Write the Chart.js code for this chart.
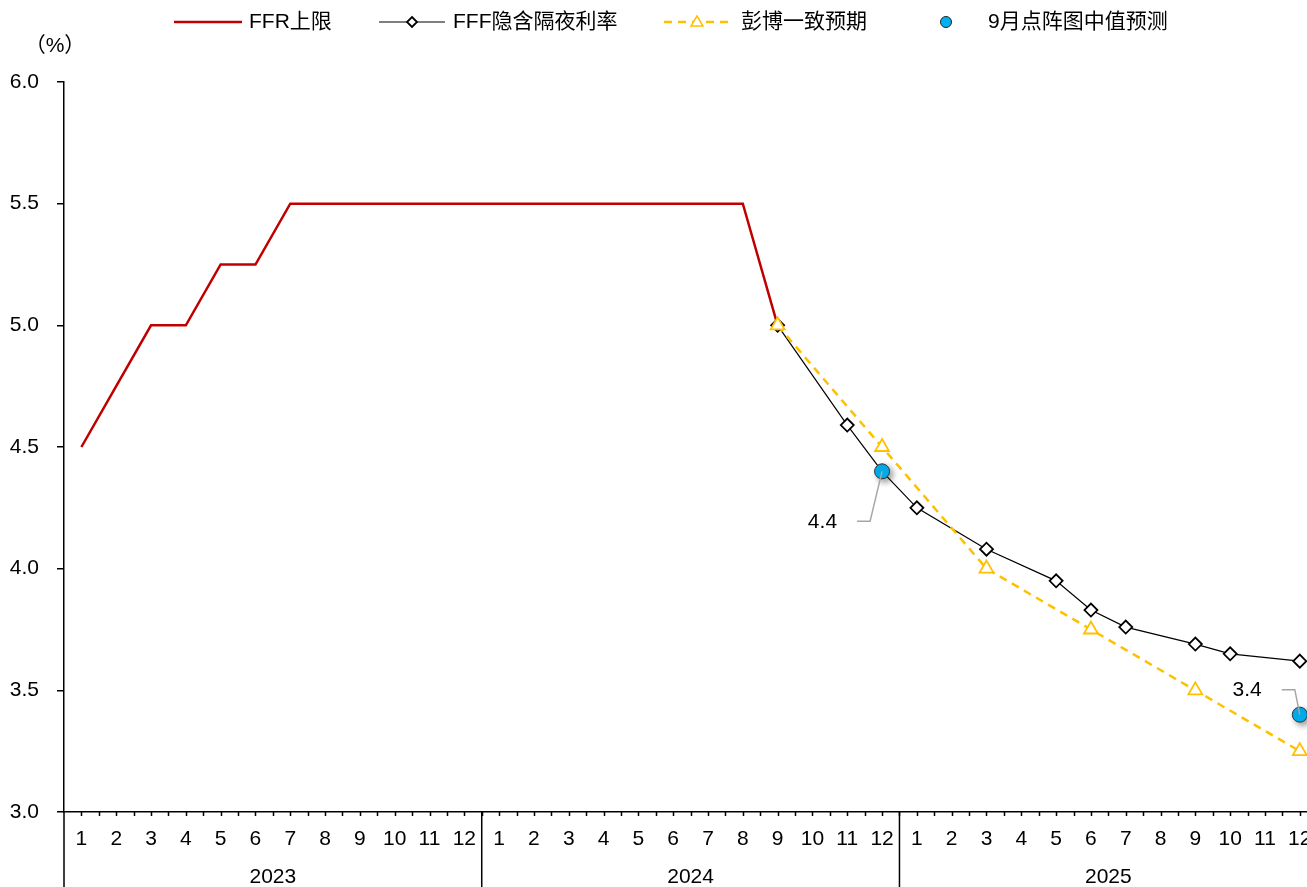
<!DOCTYPE html>
<html>
<head>
<meta charset="utf-8">
<script src="https://cdn.jsdelivr.net/npm/chart.js@4.4.1/dist/chart.umd.min.js"></script>
<style>
  html, body { margin: 0; padding: 0; background: #fff; overflow: hidden; }
  #wrap { width: 1327px; height: 887px; }
</style>
</head>
<body>
<div id="wrap"><canvas id="rateChart" width="1327" height="887"></canvas></div>
<script>
// months 2023-01 .. 2025-12
const years = ['2023', '2024', '2025'];
const months = [];
years.forEach(() => { for (let m = 1; m <= 12; m++) months.push(String(m)); });

// FFR upper bound
const ffrUpper = [4.5, 4.75, 5.0, 5.0, 5.25, 5.25, 5.5, 5.5, 5.5, 5.5, 5.5, 5.5,
  5.5, 5.5, 5.5, 5.5, 5.5, 5.5, 5.5, 5.5, 5.0, null, null, null,
  null, null, null, null, null, null, null, null, null, null, null, null];
// FFF implied overnight rate
const fffImplied = [null, null, null, null, null, null, null, null, null, null, null, null,
  null, null, null, null, null, null, null, null, 5.0, null, 4.59, 4.40,
  4.25, null, 4.08, null, 3.95, 3.83, 3.76, null, 3.69, 3.65, null, 3.62];
// Bloomberg consensus
const bbgConsensus = [null, null, null, null, null, null, null, null, null, null, null, null,
  null, null, null, null, null, null, null, null, 5.0, null, null, 4.5,
  null, null, 4.0, null, null, 3.75, null, null, 3.5, null, null, 3.25];
// September dot plot median
const dotMedian = [null, null, null, null, null, null, null, null, null, null, null, null,
  null, null, null, null, null, null, null, null, null, null, null, 4.4,
  null, null, null, null, null, null, null, null, null, null, null, 3.4];

const FONT = '"Liberation Sans", Arial, "Noto Sans CJK SC", sans-serif';
const FS = 21;
const RED = '#C00000', YEL = '#FFC000', BLUE = '#00B0F0';

const decorPlugin = {
  id: 'decor',
  beforeDatasetDraw(chart, args) {
    if (args.index === 3) {
      const ctx = chart.ctx;
      ctx.save();
      ctx.shadowColor = 'rgba(0,0,0,0.4)';
      ctx.shadowBlur = 6;
      ctx.shadowOffsetX = 3;
      ctx.shadowOffsetY = 3;
    }
  },
  afterDatasetDraw(chart, args) {
    if (args.index === 3) chart.ctx.restore();
  },
  afterDraw(chart) {
    const ctx = chart.ctx;
    const x = chart.scales.x, y = chart.scales.y;
    const area = chart.chartArea;
    const H = chart.height;
    ctx.save();
    ctx.strokeStyle = '#000';
    ctx.lineWidth = 1.5;

    // half-category tick marks below the axis
    const step = (area.right - area.left) / (months.length * 2);
    ctx.beginPath();
    for (let k = 1; k <= months.length * 2; k++) {
      const px = Math.round(area.left + k * step) + 0.5;
      ctx.moveTo(px, area.bottom);
      ctx.lineTo(px, area.bottom + 4);
    }
    ctx.stroke();

    // y axis continues down, year dividers
    ctx.beginPath();
    ctx.moveTo(area.left, area.bottom);
    ctx.lineTo(area.left, H);
    for (let yi = 1; yi < years.length; yi++) {
      const bx = (x.getPixelForValue(yi * 12 - 1) + x.getPixelForValue(yi * 12)) / 2;
      ctx.moveTo(bx, area.bottom);
      ctx.lineTo(bx, H);
    }
    ctx.stroke();

    // year labels
    ctx.fillStyle = '#000';
    ctx.font = FS + 'px ' + FONT;
    ctx.textAlign = 'center';
    ctx.textBaseline = 'middle';
    years.forEach((yr, yi) => {
      const cx = (x.getPixelForValue(yi * 12) + x.getPixelForValue(yi * 12 + 11)) / 2;
      ctx.fillText(yr, cx, 877);
    });

    // unit
    ctx.fillText('（%）', 55, 46);

    // dot-plot callouts
    const callouts = [
      { idx: 23, tx: -45, ty: 50 },
      { idx: 35, tx: -38, ty: -25 }
    ];
    callouts.forEach(c => {
      const px = x.getPixelForValue(c.idx), py = y.getPixelForValue(dotMedian[c.idx]);
      ctx.strokeStyle = '#A6A6A6';
      ctx.lineWidth = 1.5;
      ctx.beginPath();
      ctx.moveTo(px + c.tx + 20, py + c.ty);
      ctx.lineTo(px + c.tx + 33, py + c.ty);
      ctx.lineTo(px, py);
      ctx.stroke();
      ctx.fillStyle = '#000';
      ctx.textAlign = 'right';
      ctx.fillText(dotMedian[c.idx].toFixed(1), px + c.tx, py + c.ty + 1);
    });

    // legend
    const ly = 22;
    ctx.textAlign = 'left';
    ctx.fillStyle = '#000';
    // FFR
    ctx.strokeStyle = RED; ctx.lineWidth = 2.5; ctx.setLineDash([]);
    ctx.beginPath(); ctx.moveTo(174, ly); ctx.lineTo(242, ly); ctx.stroke();
    ctx.fillText('FFR上限', 249, ly);
    // FFF
    ctx.strokeStyle = '#000'; ctx.lineWidth = 1.2;
    ctx.beginPath(); ctx.moveTo(379, ly); ctx.lineTo(445, ly); ctx.stroke();
    ctx.lineWidth = 1.8; ctx.fillStyle = '#fff';
    ctx.beginPath(); ctx.moveTo(412, ly - 5); ctx.lineTo(417, ly); ctx.lineTo(412, ly + 5); ctx.lineTo(407, ly); ctx.closePath();
    ctx.fill(); ctx.stroke();
    ctx.fillStyle = '#000';
    ctx.fillText('FFF隐含隔夜利率', 453, ly);
    // Bloomberg
    ctx.strokeStyle = YEL; ctx.lineWidth = 2.5; ctx.setLineDash([8, 6]);
    ctx.beginPath(); ctx.moveTo(664, ly); ctx.lineTo(730, ly); ctx.stroke();
    ctx.setLineDash([]); ctx.lineWidth = 1.5; ctx.fillStyle = '#fff';
    ctx.beginPath(); ctx.moveTo(697, ly - 6); ctx.lineTo(703, ly + 4); ctx.lineTo(691, ly + 4); ctx.closePath();
    ctx.fill(); ctx.stroke();
    ctx.fillStyle = '#000';
    ctx.fillText('彭博一致预期', 741, ly);
    // dot plot
    ctx.fillStyle = BLUE; ctx.strokeStyle = '#222'; ctx.lineWidth = 1;
    ctx.beginPath(); ctx.arc(946, ly, 5.5, 0, Math.PI * 2); ctx.fill(); ctx.stroke();
    ctx.fillStyle = '#000';
    ctx.fillText('9月点阵图中值预测', 988, ly);
    ctx.restore();
  }
};

new Chart(document.getElementById('rateChart'), {
  type: 'line',
  data: {
    labels: months,
    datasets: [
      {
        label: 'FFR上限',
        data: ffrUpper,
        borderColor: RED,
        borderWidth: 2.5,
        pointRadius: 0,
        order: 3
      },
      {
        label: 'FFF隐含隔夜利率',
        data: fffImplied,
        borderColor: '#000',
        borderWidth: 1.2,
        spanGaps: true,
        pointStyle: 'rectRot',
        pointRadius: 6.5,
        pointBorderWidth: 1.8,
        pointBorderColor: '#000',
        pointBackgroundColor: '#fff',
        order: 2
      },
      {
        label: '彭博一致预期',
        data: bbgConsensus,
        borderColor: YEL,
        borderWidth: 2.5,
        borderDash: [8, 6],
        spanGaps: true,
        pointStyle: 'triangle',
        pointRadius: 8,
        pointBorderWidth: 1.8,
        pointBorderColor: YEL,
        pointBackgroundColor: '#fff',
        order: 1
      },
      {
        label: '9月点阵图中值预测',
        data: dotMedian,
        showLine: false,
        pointStyle: 'circle',
        pointRadius: 7.5,
        pointBorderWidth: 1,
        pointBorderColor: '#333',
        pointBackgroundColor: BLUE,
        order: 0
      }
    ]
  },
  options: {
    responsive: false,
    animation: false,
    events: [],
    layout: { padding: { top: 82, right: 0, bottom: 0, left: 0 } },
    plugins: { legend: { display: false }, tooltip: { enabled: false } },
    scales: {
      x: {
        offset: true,
        afterFit: s => { s.height = 75; },
        grid: { display: false },
        border: { display: true, color: '#000', width: 1.5 },
        ticks: {
          autoSkip: false,
          maxRotation: 0,
          padding: 7,
          color: '#000',
          font: { size: FS, family: FONT }
        }
      },
      y: {
        min: 3.0,
        max: 6.0,
        afterFit: s => { s.width = 64; },
        grid: { drawOnChartArea: false, drawTicks: true, tickLength: 7, color: '#000', lineWidth: 1.5 },
        border: { display: true, color: '#000', width: 1.5 },
        ticks: {
          stepSize: 0.5,
          padding: 18,
          color: '#000',
          font: { size: FS, family: FONT },
          callback: v => v.toFixed(1)
        }
      }
    }
  },
  plugins: [decorPlugin]
});
</script>
</body>
</html>
